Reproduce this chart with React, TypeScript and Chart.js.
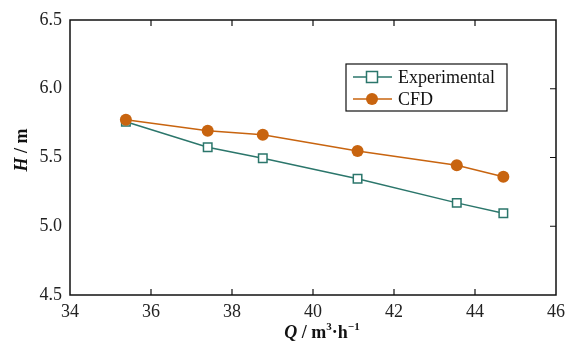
import React, { useEffect, useRef } from "react";
import { Chart, registerables } from "chart.js";

Chart.register(...registerables);

const flowExp = [35.38, 37.4, 38.76, 41.1, 43.55, 44.7];
const headExp = [5.76, 5.575, 5.494, 5.345, 5.17, 5.095];
const flowCfd = [35.38, 37.4, 38.76, 41.1, 43.55, 44.7];
const headCfd = [5.775, 5.695, 5.665, 5.547, 5.443, 5.36];
const seriesNames = ["Experimental", "CFD"];
const xTickStep = 2;
const yTickStep = 0.5;

const TEAL = "#2b766b";
const ORANGE = "#c8640f";
const FONT = "'Liberation Serif', 'Times New Roman', serif";

type Seg = { t: string; style?: string; sup?: boolean };

function drawSegs(ctx: CanvasRenderingContext2D, segs: Seg[], cx: number, cy: number, size: number) {
  const fontOf = (s: Seg) =>
    `${s.style || "bold"} ${s.sup ? Math.round(size * 0.62) : size}px ${FONT}`;
  let total = 0;
  for (const s of segs) {
    ctx.font = fontOf(s);
    total += ctx.measureText(s.t).width;
  }
  let x = cx - total / 2;
  ctx.textBaseline = "middle";
  ctx.textAlign = "left";
  for (const s of segs) {
    ctx.font = fontOf(s);
    ctx.fillText(s.t, x, s.sup ? cy - size * 0.32 : cy);
    x += ctx.measureText(s.t).width;
  }
}

const framePlugin = {
  id: "frame",
  afterDraw(chart: any) {
    const { ctx, chartArea: a, scales } = chart;
    const xs = scales.x;
    const ys = scales.y;
    ctx.save();
    ctx.strokeStyle = "#111";
    ctx.lineWidth = 1.5;
    ctx.strokeRect(a.left, a.top, a.right - a.left, a.bottom - a.top);
    ctx.lineWidth = 1.2;
    ctx.beginPath();
    xs.ticks.forEach((t: any) => {
      const px = xs.getPixelForValue(t.value);
      if (px <= a.left + 1 || px >= a.right - 1) return;
      ctx.moveTo(px, a.bottom);
      ctx.lineTo(px, a.bottom - 6);
      ctx.moveTo(px, a.top);
      ctx.lineTo(px, a.top + 6);
    });
    ys.ticks.forEach((t: any) => {
      const py = ys.getPixelForValue(t.value);
      if (py <= a.top + 1 || py >= a.bottom - 1) return;
      ctx.moveTo(a.right, py);
      ctx.lineTo(a.right - 6, py);
    });
    ctx.stroke();

    // axis titles
    ctx.fillStyle = "#111";
    drawSegs(
      ctx,
      [
        { t: "Q", style: "italic bold" },
        { t: " / m" },
        { t: "3", sup: true },
        { t: "·h" },
        { t: "−1", sup: true },
      ],
      322,
      333,
      18
    );
    ctx.save();
    ctx.translate(22, 150);
    ctx.rotate(-Math.PI / 2);
    drawSegs(ctx, [{ t: "H", style: "italic bold" }, { t: " / m" }], 0, 0, 18);
    ctx.restore();

    // legend
    const lx = 346, ly = 64, lw = 161, lh = 47;
    ctx.lineWidth = 1.2;
    ctx.strokeStyle = "#111";
    ctx.fillStyle = "#fff";
    ctx.fillRect(lx, ly, lw, lh);
    ctx.strokeRect(lx, ly, lw, lh);
    const rows = [
      { name: seriesNames[0], color: TEAL, y: 77, square: true },
      { name: seriesNames[1], color: ORANGE, y: 99, square: false },
    ];
    rows.forEach((r) => {
      ctx.strokeStyle = r.color;
      ctx.lineWidth = 1.5;
      ctx.beginPath();
      ctx.moveTo(353, r.y);
      ctx.lineTo(392, r.y);
      ctx.stroke();
      if (r.square) {
        ctx.fillStyle = "#fff";
        ctx.fillRect(366.5, r.y - 5.5, 11, 11);
        ctx.strokeRect(366.5, r.y - 5.5, 11, 11);
      } else {
        ctx.fillStyle = r.color;
        ctx.beginPath();
        ctx.arc(372, r.y, 6, 0, Math.PI * 2);
        ctx.fill();
      }
      ctx.fillStyle = "#111";
      ctx.font = `18px ${FONT}`;
      ctx.textAlign = "left";
      ctx.textBaseline = "middle";
      ctx.fillText(r.name, 398, r.y + 1);
    });
    ctx.restore();
  },
};

export default function App() {
  const ref = useRef<HTMLCanvasElement | null>(null);
  useEffect(() => {
    document.body.style.margin = "0";
    const canvas = ref.current!;
    const chart = new Chart(canvas, {
      type: "line",
      data: {
        datasets: [
          {
            label: seriesNames[1],
            data: flowCfd.map((x, i) => ({ x, y: headCfd[i] })),
            borderColor: ORANGE,
            backgroundColor: ORANGE,
            borderWidth: 1.5,
            pointStyle: "circle",
            pointRadius: 6,
            pointBorderWidth: 0,
            tension: 0,
          },
          {
            label: seriesNames[0],
            data: flowExp.map((x, i) => ({ x, y: headExp[i] })),
            borderColor: TEAL,
            backgroundColor: "#fff",
            borderWidth: 1.5,
            pointStyle: "rect",
            pointRadius: 6,
            pointBorderWidth: 1.5,
            tension: 0,
          },
        ],
      },
      options: {
        responsive: false,
        animation: false,
        layout: { padding: { top: 20, right: 18, left: 0, bottom: 0 } },
        plugins: { legend: { display: false }, tooltip: { enabled: false } },
        scales: {
          x: {
            type: "linear",
            min: 34,
            max: 46,
            ticks: {
              stepSize: xTickStep,
              color: "#222",
              font: { family: FONT, size: 18 },
              padding: 6,
              maxRotation: 0,
            },
            grid: { display: false, drawTicks: false },
            border: { display: false },
            afterFit: (s: any) => {
              s.height = 47;
            },
          },
          y: {
            min: 4.5,
            max: 6.5,
            ticks: {
              stepSize: yTickStep,
              color: "#222",
              font: { family: FONT, size: 18 },
              padding: 8,
              callback: (v: any) => Number(v).toFixed(1),
            },
            grid: { display: false, drawTicks: false },
            border: { display: false },
            afterFit: (s: any) => {
              s.width = 70;
            },
          },
        },
      },
      plugins: [framePlugin],
    });
    return () => chart.destroy();
  }, []);
  return (
    <div style={{ position: "absolute", left: 0, top: 0, width: 574, height: 342, background: "#fff" }}>
      <canvas ref={ref} width={574} height={342} style={{ width: 574, height: 342 }} />
    </div>
  );
}
